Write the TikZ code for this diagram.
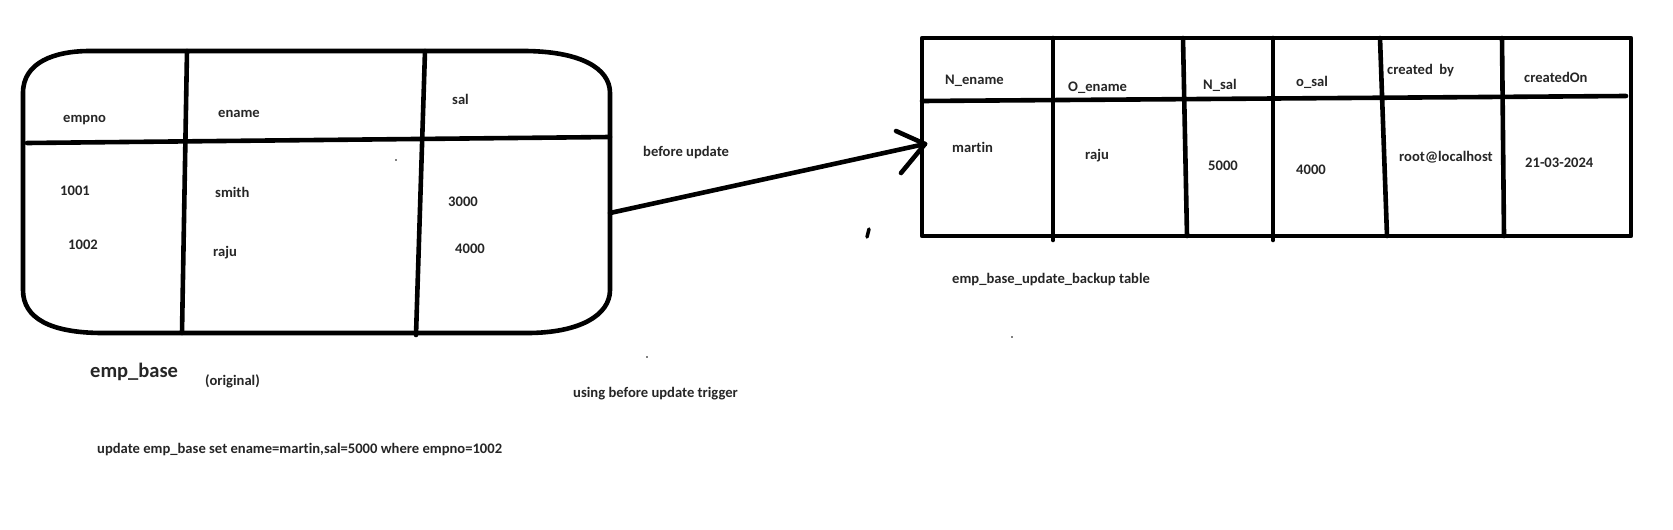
\documentclass[tikz,border=0pt]{standalone}
\usepackage{fontspec}
\setmainfont{Carlito}[Ligatures={NoCommon}]
\definecolor{txt}{gray}{0.15}
\tikzset{
  lbl/.style={anchor=west, inner sep=0pt, text height=0.8em, text depth=0pt,
    font=\fontsize{14.6}{16}\selectfont\bfseries, text=txt},
  biglbl/.style={lbl, font=\fontsize{20.5}{22}\selectfont\bfseries},
  thick line/.style={line width=4.6pt, line cap=round, line join=round},
  speck/.style={fill=black},
}
\begin{document}
\begin{tikzpicture}[x=1pt, y=-1pt]
\useasboundingbox (0,0) rectangle (1673,530);

% ---- emp_base (rounded table) ----
\draw[thick line] (23,93) .. controls (23,62) and (55,51) .. (90,51) -- (523,51)
  .. controls (580,51) and (610,68) .. (610,93) -- (610,290)
  .. controls (610,315) and (580,333) .. (527,333) -- (103,333)
  .. controls (50,333) and (23,318) .. (23,290) -- cycle;
\draw[thick line] (27,143) -- (610,137);
\draw[thick line] (187,51) -- (182,333);
\draw[thick line] (425,51) -- (416,335);

\node[lbl] (h1) at (63,118) {empno};
\node[lbl] (h2) at (218,113) {ename};
\node[lbl] (h3) at (452,100) {sal};
\node[lbl] (r11) at (60,191) {1001};
\node[lbl] (r21) at (68,245) {1002};
\node[lbl] (r12) at (215,193) {smith};
\node[lbl] (r22) at (213,252) {raju};
\node[lbl] (r13) at (448,202) {3000};
\node[lbl] (r23) at (455,249) {4000};

\node[biglbl] (basename) at (90,373) {emp\_base};
\node[lbl] (orig) at (205,381) {(original)};
\node[lbl] (sql) at (97,449) {update emp\_base set ename=martin,sal=5000 where empno=1002};

\node[lbl] (before) at (643,152) {before update};
\node[lbl] (using) at (573,393) {using before update trigger};

% ---- backup table ----
\draw[thick line] (922,38) rectangle (1631,236);
\draw[thick line] (922,101) -- (1626,96);
\draw[thick line] (1053,38) -- (1053,240);
\draw[thick line] (1183,38) -- (1187,236);
\draw[thick line] (1273,38) -- (1273,240);
\draw[thick line] (1380,38) -- (1387,236);
\draw[thick line] (1502,38) -- (1504,236);

\node[lbl] (c1) at (945,80) {N\_ename};
\node[lbl] (c2) at (1068,87) {O\_ename};
\node[lbl] (c3) at (1203,85) {N\_sal};
\node[lbl] (c4) at (1296,82) {o\_sal};
\node[lbl] (c5) at (1387,70) {created\ \ by};
\node[lbl] (c6) at (1524,78) {createdOn};
\node[lbl] (v1) at (952,148) {martin};
\node[lbl] (v2) at (1085,155) {raju};
\node[lbl] (v3) at (1208,166) {5000};
\node[lbl] (v4) at (1296,170) {4000};
\node[lbl] (v5) at (1399,157) {root@localhost};
\node[lbl] (v6) at (1525,163) {21-03-2024};
\node[lbl] (caption) at (952,279) {emp\_base\_update\_backup table};

% ---- arrow ----
\coordinate (from) at (610,213);
\coordinate (to) at (925,144);
\coordinate (armA) at (896,131);
\coordinate (armB) at (901,173);
\draw[thick line] (from) -- (to);
\draw[thick line] (armA) -- (to) -- (armB);

% ---- stray marks ----
\coordinate (tickA) at (869,229);
\coordinate (tickB) at (867,237);
\draw[line width=3.5pt, line cap=round] (tickA) -- (tickB);
\fill[speck] (396,160) circle (0.9);
\fill[speck] (647,357) circle (0.9);
\fill[speck] (1012,337) circle (0.9);
\end{tikzpicture}
\end{document}
